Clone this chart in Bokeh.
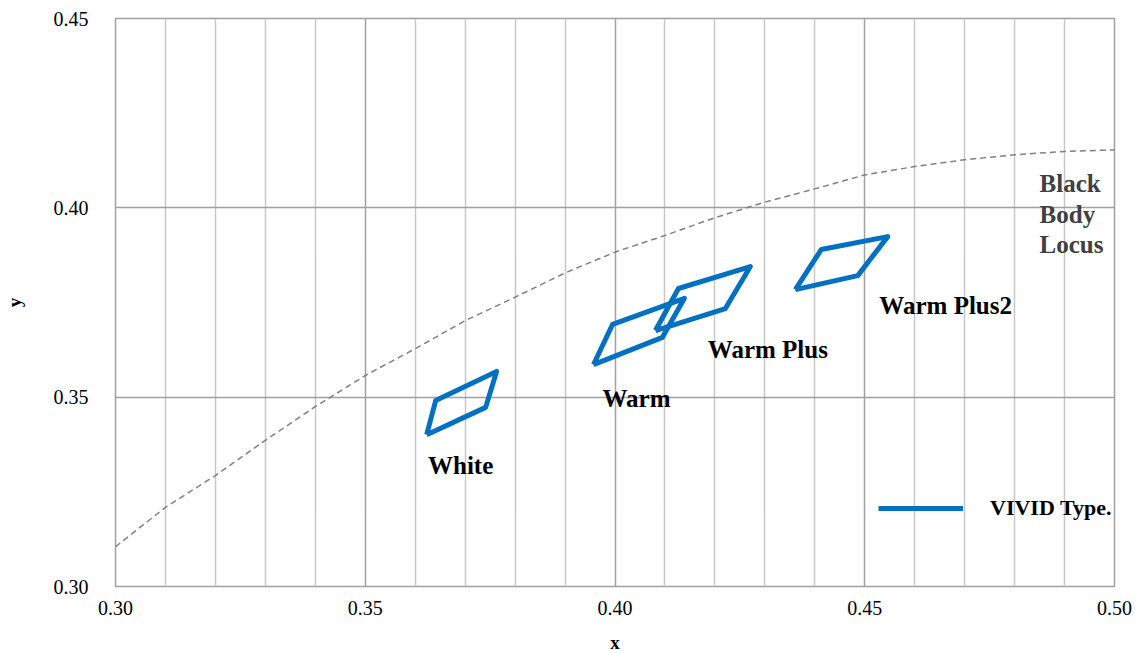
from bokeh.plotting import figure
from bokeh.models import FixedTicker, Label, Legend, LegendItem, Range1d, PrintfTickFormatter
from bokeh.embed import file_html
from bokeh.resources import INLINE

# ---- data ----
white_x = [0.3623, 0.3641, 0.3763, 0.3741]
white_y = [0.3401, 0.3491, 0.3568, 0.3473]
warm_x = [0.3957, 0.3995, 0.4139, 0.4095]
warm_y = [0.3586, 0.3692, 0.3761, 0.3658]
warmplus_x = [0.4081, 0.4127, 0.4271, 0.4221]
warmplus_y = [0.3676, 0.3787, 0.3845, 0.3734]
warmplus2_x = [0.4361, 0.4413, 0.4546, 0.4486]
warmplus2_y = [0.3784, 0.3890, 0.3924, 0.3821]

locus_x = [0.300, 0.31, 0.32, 0.33, 0.34, 0.35, 0.36, 0.37, 0.38, 0.39, 0.40,
           0.41, 0.42, 0.43, 0.44, 0.45, 0.46, 0.47, 0.48, 0.49, 0.50]
locus_y = [0.3105, 0.3209, 0.3293, 0.3386, 0.3475, 0.3557, 0.3628, 0.3702, 0.3764,
           0.3828, 0.3883, 0.3927, 0.3974, 0.4015, 0.4050, 0.4087, 0.4109, 0.4127,
           0.4140, 0.4149, 0.4153]

x_ticks = [0.30, 0.35, 0.40, 0.45, 0.50]
x_minor = [0.31, 0.32, 0.33, 0.34, 0.36, 0.37, 0.38, 0.39, 0.41, 0.42, 0.43, 0.44,
           0.46, 0.47, 0.48, 0.49]
y_ticks = [0.30, 0.35, 0.40, 0.45]

FONT = "Liberation Serif"
BLUE = "#0070C0"

p = figure(frame_width=999, frame_height=568, output_backend="svg", toolbar_location=None,
           x_range=Range1d(0.30, 0.50), y_range=Range1d(0.30, 0.45),
           min_border_left=114, min_border_right=22, min_border_top=18, min_border_bottom=59)
p.background_fill_color = "white"
p.border_fill_color = "white"
p.outline_line_color = "#a0a0a0"
p.outline_line_width = 1.5

p.xaxis.ticker = FixedTicker(ticks=x_ticks, minor_ticks=x_minor)
p.yaxis.ticker = FixedTicker(ticks=y_ticks)
p.xaxis.formatter = PrintfTickFormatter(format="%.2f")
p.yaxis.formatter = PrintfTickFormatter(format="%.2f")

for ax in (p.xaxis[0], p.yaxis[0]):
    ax.axis_line_color = None
    ax.major_tick_line_color = None
    ax.minor_tick_line_color = None
    ax.major_tick_out = 0
    ax.major_tick_in = 0
    ax.minor_tick_out = 0
    ax.major_label_text_font = FONT
    ax.major_label_text_font_style = "normal"
    ax.major_label_text_font_size = "20px"
    ax.major_label_text_color = "#000000"
    ax.axis_label_text_font = FONT
    ax.axis_label_text_font_size = "19px"
    ax.axis_label_text_font_style = "bold"
    ax.axis_label_text_color = "#000000"

p.xaxis.axis_label = "x"
p.yaxis.axis_label = "y"
p.xaxis.major_label_standoff = 14
p.yaxis.major_label_standoff = 27
p.xaxis.axis_label_standoff = 14
p.yaxis.axis_label_standoff = 26

p.xgrid.grid_line_color = "#a0a0a0"
p.xgrid.grid_line_width = 1.5
p.xgrid.minor_grid_line_color = "#c8c8c8"
p.xgrid.minor_grid_line_width = 1.5
p.ygrid.grid_line_color = "#a0a0a0"
p.ygrid.grid_line_width = 1.5

# black body locus
p.line(locus_x, locus_y, line_color="#808080", line_width=1.5, line_dash="6 4")

# polygons as closed lines
polys_x = [white_x, warm_x, warmplus_x, warmplus2_x]
polys_y = [white_y, warm_y, warmplus_y, warmplus2_y]
xs = [px + [px[0]] for px in polys_x]
ys = [py + [py[0]] for py in polys_y]
r = p.multi_line(xs, ys, line_color=BLUE, line_width=5, line_join="round")

labels = [("White", 0.3691, 0.3320), ("Warm", 0.4043, 0.3497),
          ("Warm Plus", 0.4306, 0.3626), ("Warm Plus2", 0.4662, 0.3742)]
for txt, lx, ly in labels:
    p.add_layout(Label(x=lx, y=ly, text=txt, text_font=FONT, text_font_size="25px",
                       text_font_style="bold", text_align="center", text_baseline="middle",
                       text_color="#000000"))

for txt, ly in [("Black", 0.4064), ("Body", 0.3982), ("Locus", 0.3903)]:
    p.add_layout(Label(x=0.4850, y=ly, text=txt, text_font=FONT, text_font_size="25px",
                       text_font_style="bold", text_align="left", text_baseline="middle",
                       text_color="#404040"))

legend = Legend(items=[LegendItem(label="VIVID Type.", renderers=[r])],
                location=(763, 65), padding=0, margin=0, spacing=0,
                glyph_width=85, glyph_height=20, label_height=20, label_standoff=27,
                label_text_font=FONT, label_text_font_size="22px",
                label_text_font_style="bold", label_text_color="#000000",
                background_fill_alpha=0, border_line_color=None)
p.add_layout(legend, "center")

open("out.html", "w").write(file_html(p, INLINE))
